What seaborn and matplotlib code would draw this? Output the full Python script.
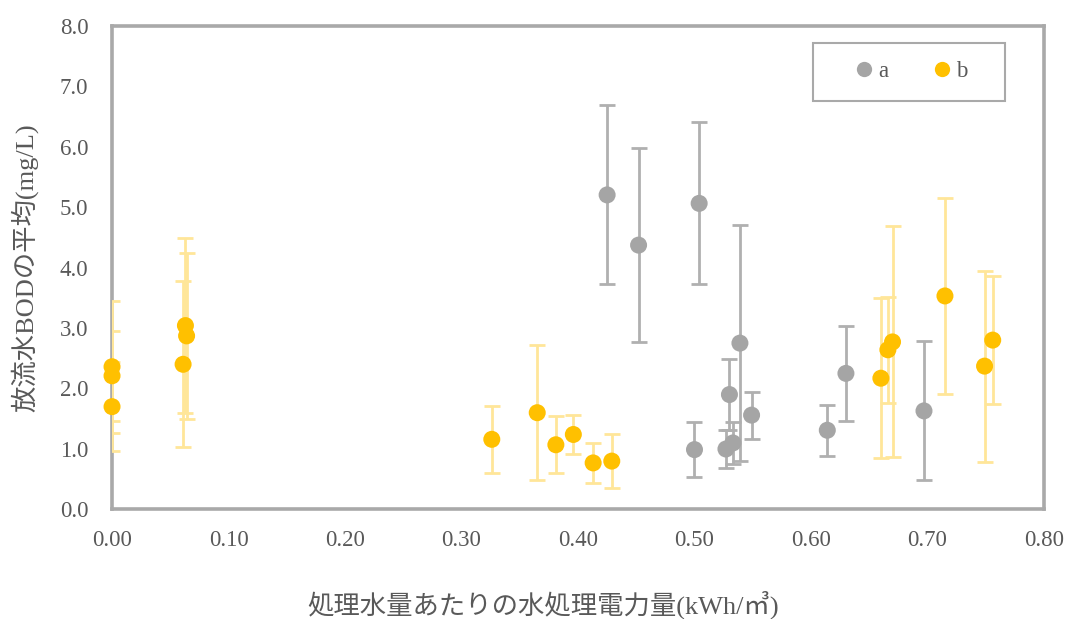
import matplotlib
matplotlib.use("Agg")
import matplotlib.pyplot as plt
from matplotlib.patches import Rectangle
from matplotlib.ticker import FormatStrFormatter, MultipleLocator
import pandas as pd
import seaborn as sns

# Series a: electricity per treated volume vs. mean effluent BOD, with std-dev
a_x = [0.425, 0.452, 0.500, 0.504, 0.527, 0.530, 0.533, 0.539, 0.549, 0.614, 0.630, 0.697]
a_y = [5.20, 4.37, 0.99, 5.06, 1.00, 1.90, 1.10, 2.75, 1.56, 1.31, 2.25, 1.63]
a_err = [1.48, 1.60, 0.45, 1.34, 0.32, 0.59, 0.34, 1.95, 0.39, 0.42, 0.78, 1.15]

# Series b
b_x = [0.000, 0.000, 0.000, 0.061, 0.063, 0.064, 0.326, 0.365, 0.381, 0.396,
       0.413, 0.429, 0.660, 0.666, 0.670, 0.715, 0.749, 0.756]
b_y = [2.36, 2.21, 1.70, 2.40, 3.04, 2.87, 1.16, 1.60, 1.07, 1.24,
       0.77, 0.80, 2.17, 2.64, 2.77, 3.53, 2.37, 2.80]
b_err = [1.09, 0.74, 0.74, 1.37, 1.45, 1.37, 0.55, 1.12, 0.47, 0.32,
         0.33, 0.45, 1.32, 0.88, 1.91, 1.62, 1.58, 1.06]

series_names = ["a", "b"]
x_label = "処理水量あたりの水処理電力量(kWh/㎥)"
y_label = "放流水BODの平均(mg/L)"

GRAY = "#a5a5a5"
GOLD = "#ffc000"
GOLD_LIGHT = "#ffe699"
TEXT = "#595959"
FRAME = "#a9a9a9"

sns.set_theme(style="white")
plt.rcParams["font.family"] = ["Liberation Serif", "Noto Sans CJK JP"]

df = pd.concat([
    pd.DataFrame({"x": a_x, "y": a_y, "err": a_err, "series": series_names[0]}),
    pd.DataFrame({"x": b_x, "y": b_y, "err": b_err, "series": series_names[1]}),
], ignore_index=True)

fig = plt.figure(figsize=(10.68, 6.19), dpi=100)
ax = fig.add_axes([0.1049, 0.1769, 0.9775 - 0.1049, 0.9588 - 0.1769])

# error bars first, markers on top
ax.errorbar(a_x, a_y, yerr=a_err, fmt="none", ecolor="#b0b0b0",
            elinewidth=2.0, capsize=5.5, capthick=2.0, zorder=2)
ax.errorbar(b_x, b_y, yerr=b_err, fmt="none", ecolor=GOLD_LIGHT,
            elinewidth=2.0, capsize=5.5, capthick=2.0, zorder=3)

sns.scatterplot(data=df, x="x", y="y", hue="series",
                palette={"a": GRAY, "b": GOLD}, s=150, edgecolor="none",
                ax=ax, legend=False, zorder=4, clip_on=False)

ax.set_xlim(0, 0.8)
ax.set_ylim(0, 8.0)
ax.xaxis.set_major_locator(MultipleLocator(0.1))
ax.yaxis.set_major_locator(MultipleLocator(1.0))
ax.xaxis.set_major_formatter(FormatStrFormatter("%.2f"))
ax.yaxis.set_major_formatter(FormatStrFormatter("%.1f"))
ax.tick_params(axis="both", length=0, labelsize=16.5, labelcolor=TEXT)
ax.tick_params(axis="x", pad=15)
ax.tick_params(axis="y", pad=17)

for sp in ax.spines.values():
    sp.set_visible(True)
    sp.set_color(FRAME)
    sp.set_linewidth(2.6)

ax.set_xlabel(x_label, fontsize=19, color=TEXT)
ax.set_ylabel(y_label, fontsize=19, color=TEXT)
ax.xaxis.set_label_coords(0.463, -0.168)
ax.yaxis.set_label_coords(-0.079, 0.499)

# legend with a boxed frame
ax.add_patch(Rectangle((0.752, 0.845), 0.206, 0.118, transform=ax.transAxes,
                       facecolor="white", edgecolor=FRAME, linewidth=1.5,
                       zorder=5))
handles = [plt.Line2D([], [], linestyle="none", marker="o", markersize=11,
                      markerfacecolor=c, markeredgecolor="none")
           for c in (GRAY, GOLD)]
leg = ax.legend(handles, series_names, loc="center",
                bbox_to_anchor=(0.858, 0.904), ncol=2, frameon=False,
                fontsize=16.5, handlelength=0.7, handletextpad=0.25,
                columnspacing=2.0, labelcolor=TEXT)
leg.set_zorder(6)

fig.savefig("out.png", dpi=100)
